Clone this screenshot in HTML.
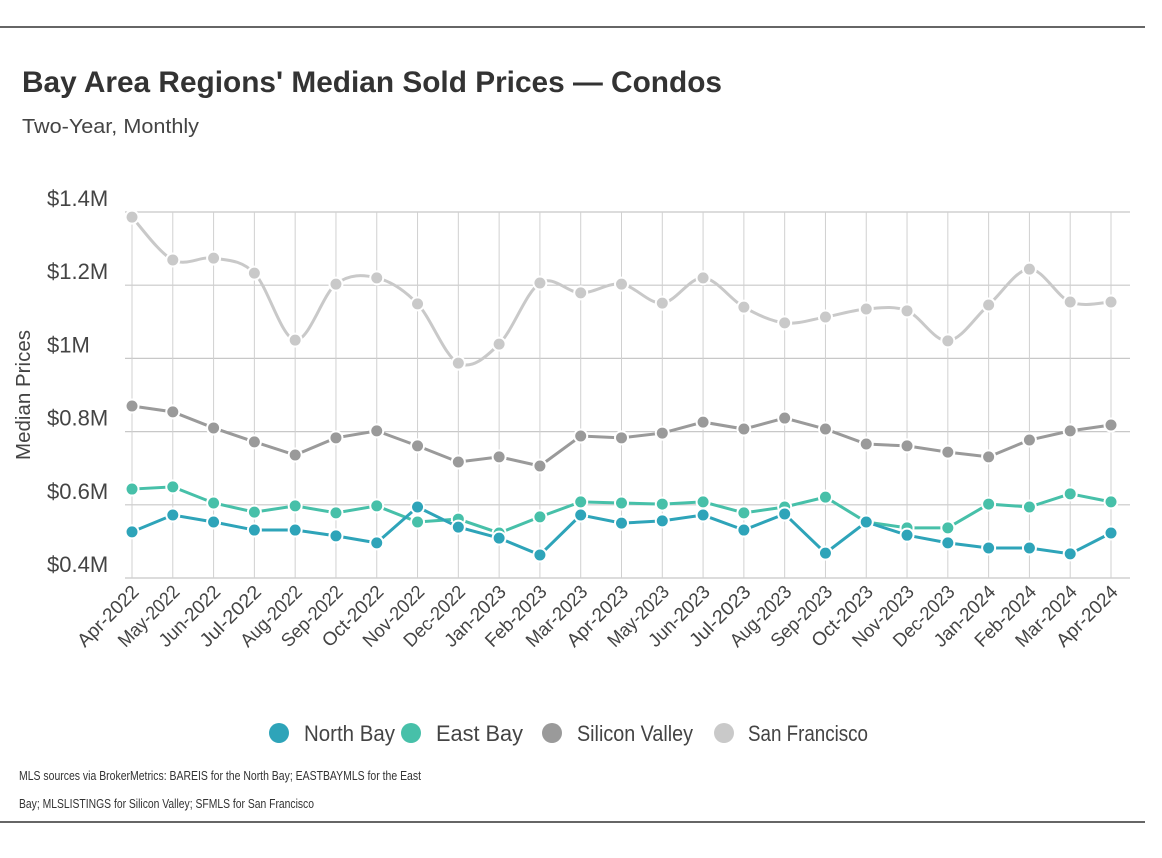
<!DOCTYPE html>
<html><head><meta charset="utf-8"><style>
html,body{margin:0;padding:0;background:#fff;}
svg{display:block;font-family:"Liberation Sans Narrow","Liberation Sans",sans-serif;}
</style></head><body>
<svg id="chart" width="1162" height="858" viewBox="0 0 1162 858">
<line x1="0" y1="27" x2="1145" y2="27" stroke="#333" stroke-width="1.5"/>
<line x1="0" y1="822" x2="1145" y2="822" stroke="#333" stroke-width="1.5"/>
<text x="22" y="92" font-size="30" font-weight="bold" fill="#333" textLength="700" lengthAdjust="spacingAndGlyphs">Bay Area Regions' Median Sold Prices — Condos</text>
<text x="22" y="133" font-size="20" fill="#444" textLength="177" lengthAdjust="spacingAndGlyphs">Two-Year, Monthly</text>
<text transform="translate(30,395) rotate(-90)" text-anchor="middle" font-size="20" fill="#444" textLength="130" lengthAdjust="spacingAndGlyphs">Median Prices</text>
<g id="grid"></g><g id="yticks"></g><g id="xticks"></g><g id="series"></g>
<g>
 <g><circle cx="279" cy="733" r="10" fill="#2ea4b9"/><text x="304" y="741" font-size="22" fill="#444" textLength="91" lengthAdjust="spacingAndGlyphs">North Bay</text></g>
 <g><circle cx="411" cy="733" r="10" fill="#47c0a9"/><text x="436" y="741" font-size="22" fill="#444" textLength="87" lengthAdjust="spacingAndGlyphs">East Bay</text></g>
 <g><circle cx="552" cy="733" r="10" fill="#9a9a9a"/><text x="577" y="741" font-size="22" fill="#444" textLength="116" lengthAdjust="spacingAndGlyphs">Silicon Valley</text></g>
 <g><circle cx="724" cy="733" r="10" fill="#c9c9c9"/><text x="748" y="741" font-size="22" fill="#444" textLength="120" lengthAdjust="spacingAndGlyphs">San Francisco</text></g>
</g>
<text x="19" y="780" font-size="13" fill="#333" textLength="402" lengthAdjust="spacingAndGlyphs">MLS sources via BrokerMetrics: BAREIS for the North Bay; EASTBAYMLS for the East</text>
<text x="19" y="808" font-size="13" fill="#333" textLength="295" lengthAdjust="spacingAndGlyphs">Bay; MLSLISTINGS for Silicon Valley; SFMLS for San Francisco</text>
</svg>
<script>
const months = ["Apr-2022","May-2022","Jun-2022","Jul-2022","Aug-2022","Sep-2022","Oct-2022","Nov-2022","Dec-2022","Jan-2023","Feb-2023","Mar-2023","Apr-2023","May-2023","Jun-2023","Jul-2023","Aug-2023","Sep-2023","Oct-2023","Nov-2023","Dec-2023","Jan-2024","Feb-2024","Mar-2024","Apr-2024"];
const northBay = [0.526,0.572,0.553,0.531,0.531,0.515,0.496,0.594,0.539,0.509,0.463,0.572,0.550,0.556,0.572,0.531,0.575,0.468,0.553,0.517,0.496,0.482,0.482,0.466,0.523];
const eastBay = [0.643,0.649,0.605,0.580,0.597,0.578,0.597,0.553,0.561,0.523,0.567,0.608,0.605,0.602,0.608,0.578,0.594,0.621,0.553,0.537,0.537,0.602,0.594,0.630,0.608];
const siliconValley = [0.870,0.854,0.810,0.772,0.736,0.783,0.802,0.761,0.717,0.731,0.706,0.788,0.783,0.796,0.826,0.807,0.837,0.807,0.766,0.761,0.744,0.731,0.777,0.802,0.818];
const sanFrancisco = [1.386,1.269,1.274,1.233,1.050,1.203,1.220,1.149,0.987,1.039,1.206,1.179,1.203,1.151,1.220,1.140,1.097,1.113,1.135,1.130,1.048,1.146,1.244,1.154,1.154];
const yTicks = [0.4,0.6,0.8,1.0,1.2,1.4];
const yTickLabels = ["$0.4M","$0.6M","$0.8M","$1M","$1.2M","$1.4M"];

const NS="http://www.w3.org/2000/svg";
const X0=132, X1=1111, Y0=578, Y1=212, VMIN=0.4, VMAX=1.4;
const xs = i => X0 + i*(X1-X0)/(months.length-1);
const ys = v => Y0 - (v-VMIN)/(VMAX-VMIN)*(Y0-Y1);
function mk(tag, attrs, parent){const e=document.createElementNS(NS,tag);for(const k in attrs)e.setAttribute(k,attrs[k]);parent.appendChild(e);return e;}
const grid=document.getElementById('grid'), yt=document.getElementById('yticks'), xt=document.getElementById('xticks'), ser=document.getElementById('series');
yTicks.forEach((v,i)=>{
  const l=mk('line',{x1:125,x2:1130,y1:ys(v),y2:ys(v),stroke:'#c8c8c8','stroke-width':1.2},grid);
  
  
  const t=mk('text',{x:47,y:ys(v)-6,'font-size':22,fill:'#444'},yt);
  t.textContent=yTickLabels[i];
  
  
});
months.forEach((m,i)=>{
  const l=mk('line',{x1:xs(i),x2:xs(i),y1:Y1,y2:Y0,stroke:'#d0d0d0','stroke-width':1},grid);
  
  
  const t=mk('text',{transform:`translate(${xs(i)+8},${593}) rotate(-45)`,'text-anchor':'end','font-size':19,fill:'#444',textLength:78,lengthAdjust:'spacingAndGlyphs'},xt);
  t.textContent=m;
  
  
});
function smoothPath(pts){
  let d=`M${pts[0][0]},${pts[0][1]}`;
  for(let i=0;i<pts.length-1;i++){
    const p0=pts[i-1]||pts[i],p1=pts[i],p2=pts[i+1],p3=pts[i+2]||p2;
    const c1=[p1[0]+(p2[0]-p0[0])/6,p1[1]+(p2[1]-p0[1])/6];
    const c2=[p2[0]-(p3[0]-p1[0])/6,p2[1]-(p3[1]-p1[1])/6];
    d+=` C${c1[0]},${c1[1]} ${c2[0]},${c2[1]} ${p2[0]},${p2[1]}`;
  }
  return d;
}
function draw(vals,color,name,smooth){
  const g=mk('g',{},ser);
  
  
  const pts=vals.map((v,i)=>[xs(i),ys(v)]);
  const d=smooth?smoothPath(pts):'M'+pts.map(p=>p.join(',')).join(' L');
  const p=mk('path',{d:d,fill:'none',stroke:color,'stroke-width':3},g);
  
  
  pts.forEach(pt=>{
    const c=mk('circle',{cx:pt[0],cy:pt[1],r:6.5,fill:color,stroke:'#fff','stroke-width':2},g);
    
    
  });
}
draw(sanFrancisco,'#c9c9c9','san-francisco',true);
draw(siliconValley,'#9a9a9a','silicon-valley',false);
draw(eastBay,'#47c0a9','east-bay',false);
draw(northBay,'#2ea4b9','north-bay',false);
</script>
</body></html>
